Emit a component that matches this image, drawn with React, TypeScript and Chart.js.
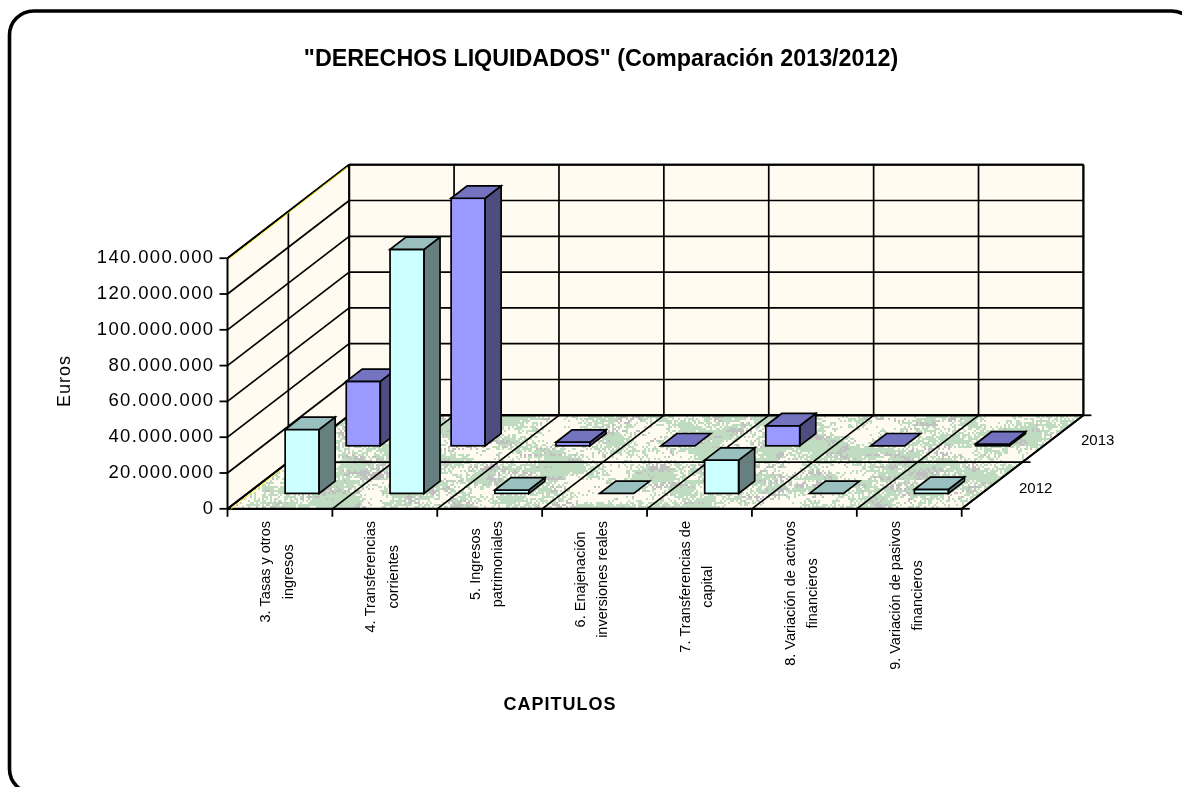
import React, { useEffect, useRef } from "react";
import { Chart, registerables } from "chart.js";

Chart.register(...registerables);

const categories = [
  ["3. Tasas y otros", "ingresos"],
  ["4. Transferencias", "corrientes"],
  ["5. Ingresos", "patrimoniales"],
  ["6. Enajenación", "inversiones reales"],
  ["7. Transferencias de", "capital"],
  ["8. Variación de activos", "financieros"],
  ["9. Variación de pasivos", "financieros"],
];
const values2012 = [35700000, 136300000, 1900000, 0, 18600000, 0, 2200000];
const values2013 = [36000000, 138300000, 2000000, 0, 11200000, 0, 1000000];
const seriesLabels = ["2012", "2013"];
const yTicks = [0, 20000000, 40000000, 60000000, 80000000, 100000000, 120000000, 140000000];
const title = '"DERECHOS LIQUIDADOS" (Comparación 2013/2012)';
const yTitle = "Euros";
const xTitle = "CAPITULOS";

const FONT = '"Liberation Sans", Arial, sans-serif';
const DEPTH = { x: 121.7, y: -93.5 };
const BAR_DEPTH = { x: 16, y: -12.3 };
const SERIES_OFFSET = [
  { x: 22.2, y: -15.4 },
  { x: 83.3, y: -63 },
];
const STYLES = [
  { side: "#668080", top: "#99BFBF" },
  { side: "#4D4D80", top: "#7373BF" },
];
const WALL = "#FFFBF0";
const LINE = 1.7;

function makeFloorPattern(ctx: CanvasRenderingContext2D) {
  const w = 1200;
  const h = 120;
  const c = document.createElement("canvas");
  c.width = w;
  c.height = h;
  const g = c.getContext("2d")!;
  g.fillStyle = "#C0DCC0";
  g.fillRect(0, 0, w, h);
  // fixed hash so that the texture is the same on every run
  const hash = (a: number, b: number) => {
    let n = (a * 374761393 + b * 668265263) | 0;
    n = Math.imul(n ^ (n >>> 13), 1274126177);
    n = Math.imul(n ^ (n >>> 15), 1103515245);
    return ((n ^ (n >>> 16)) >>> 0) / 4294967296;
  };
  const smooth = (x: number, y: number, sx: number, sy: number) => {
    const fx = x / sx;
    const fy = y / sy;
    const x0 = Math.floor(fx);
    const y0 = Math.floor(fy);
    const tx = fx - x0;
    const ty = fy - y0;
    const v = (i: number, j: number) => hash(i, j);
    return (
      v(x0, y0) * (1 - tx) * (1 - ty) +
      v(x0 + 1, y0) * tx * (1 - ty) +
      v(x0, y0 + 1) * (1 - tx) * ty +
      v(x0 + 1, y0 + 1) * tx * ty
    );
  };
  for (let y = 0; y < h; y += 2) {
    for (let x = 0; x < w; x += 2) {
      const a = smooth(x, y, 22, 9) * 0.62 + hash(x + 3, y + 7) * 0.38;
      const b = smooth(x + 500, y + 200, 16, 6) * 0.72 + hash(x + 11, y + 5) * 0.28;
      if (a > 0.55) {
        g.fillStyle = WALL;
        g.fillRect(x, y, 2, 2);
      } else if (b > 0.67) {
        g.fillStyle = "#C0C0C0";
        g.fillRect(x, y, 2, 2);
      }
    }
  }
  return ctx.createPattern(c, "repeat")!;
}

function line(ctx: CanvasRenderingContext2D, x1: number, y1: number, x2: number, y2: number, lw = LINE, color = "#000") {
  ctx.strokeStyle = color;
  ctx.lineWidth = lw;
  ctx.beginPath();
  ctx.moveTo(x1, y1);
  ctx.lineTo(x2, y2);
  ctx.stroke();
}

function poly(ctx: CanvasRenderingContext2D, pts: number[][], fill: any, lw = LINE) {
  ctx.beginPath();
  pts.forEach(([x, y], i) => (i ? ctx.lineTo(x, y) : ctx.moveTo(x, y)));
  ctx.closePath();
  ctx.fillStyle = fill;
  ctx.fill();
  if (lw) {
    ctx.strokeStyle = "#000";
    ctx.lineWidth = lw;
    ctx.lineJoin = "miter";
    ctx.stroke();
  }
}

const frame3d = {
  id: "frame3d",
  beforeDatasetsDraw(chart: any) {
    const { ctx, scales } = chart;
    ctx.letterSpacing = "0px";
    const xs = scales.x;
    const ys = scales.y;
    const left = xs.left;
    const right = xs.right;
    const y0 = ys.getPixelForValue(0);
    const yTop = ys.getPixelForValue(140000000);
    const d = DEPTH;
    const n = categories.length;
    const cw = (right - left) / n;
    ctx.save();
    ctx.lineCap = "butt";
    // walls
    poly(ctx, [[left, y0], [left + d.x, y0 + d.y], [left + d.x, yTop + d.y], [left, yTop]], WALL, 0);
    poly(ctx, [[left + d.x, y0 + d.y], [right + d.x, y0 + d.y], [right + d.x, yTop + d.y], [left + d.x, yTop + d.y]], WALL, 0);
    // floor
    poly(ctx, [[left, y0], [right, y0], [right + d.x, y0 + d.y], [left + d.x, y0 + d.y]], makeFloorPattern(ctx), 0);
    // wall grid: horizontal
    yTicks.forEach((v) => {
      const y = ys.getPixelForValue(v);
      line(ctx, left, y, left + d.x, y + d.y);
      line(ctx, left + d.x, y + d.y, right + d.x, y + d.y, v === 0 ? 2.4 : LINE);
    });
    // wall grid: vertical on back wall and floor depth lines
    for (let i = 0; i <= n; i++) {
      const x = left + i * cw;
      line(ctx, x + d.x, y0 + d.y, x + d.x, yTop + d.y);
      line(ctx, x, y0, x + d.x, y0 + d.y);
    }
    // series divider on floor and left wall
    const mid = { x: d.x / 2, y: d.y / 2 };
    line(ctx, left + mid.x, y0 + mid.y, right + mid.x + 8, y0 + mid.y);
    line(ctx, left + mid.x, y0 + mid.y, left + mid.x, yTop + mid.y);
    // outer frame
    line(ctx, left, yTop, left + d.x, yTop + d.y, 2);
    line(ctx, left + d.x, yTop + d.y, right + d.x, yTop + d.y, 2);
    line(ctx, right + d.x, yTop + d.y, right + d.x, y0 + d.y, 2);
    line(ctx, left + d.x, yTop + d.y, left + d.x, y0 + d.y, 2);
    line(ctx, left, yTop, left, y0, 2);
    line(ctx, left, y0, right, y0, 2.2);
    line(ctx, right, y0, right + d.x, y0 + d.y, 2);
    line(ctx, left, y0, left + d.x, y0 + d.y, 2);
    // yellow fringe on the diagonal edges
    line(ctx, left + 2, yTop + 0.6, left + d.x - 2, yTop + d.y + 2.4, 0.8, "#FFF200");
    line(ctx, left + 3, y0 + 0.8, left + mid.x - 8, y0 + mid.y + 8, 0.8, "#FFF200");
    // tick marks
    for (let i = 0; i <= n; i++) {
      const x = left + i * cw;
      line(ctx, x, y0, x, y0 + 8, 1.8);
    }
    yTicks.forEach((v) => {
      const y = ys.getPixelForValue(v);
      line(ctx, left - 8, y, left, y, 1.8);
    });
    line(ctx, right, y0, right + 8, y0, 1.8);
    line(ctx, right + d.x, y0 + d.y, right + d.x + 8, y0 + d.y, 1.8);
    // depth labels
    ctx.fillStyle = "#000";
    ctx.font = `15px ${FONT}`;
    ctx.textAlign = "left";
    ctx.textBaseline = "middle";
    ctx.fillText(seriesLabels[0], 1019, 489);
    ctx.fillText(seriesLabels[1], 1081, 441);
    ctx.restore();
  },
  beforeDatasetDraw(chart: any, args: any) {
    const o = SERIES_OFFSET[args.index];
    chart.ctx.save();
    chart.ctx.translate(o.x, o.y);
  },
  afterDatasetDraw(chart: any, args: any) {
    const { ctx } = chart;
    const s = STYLES[args.index];
    const bd = BAR_DEPTH;
    args.meta.data.forEach((bar: any) => {
      const p = bar.getProps(["x", "y", "base", "width"], true);
      const l = p.x - p.width / 2;
      const r = p.x + p.width / 2;
      const t = p.y;
      const b = p.base;
      if (b - t > 0.5) {
        poly(ctx, [[r, t], [r + bd.x, t + bd.y], [r + bd.x, b + bd.y], [r, b]], s.side);
        ctx.strokeStyle = "#000";
        ctx.lineWidth = LINE;
        ctx.strokeRect(l, t, r - l, b - t);
      }
      poly(ctx, [[l, t], [r, t], [r + bd.x, t + bd.y], [l + bd.x, t + bd.y]], s.top);
    });
    ctx.restore();
  },
  afterDraw(chart: any) {
    const { ctx, scales } = chart;
    const xs = scales.x;
    ctx.save();
    ctx.fillStyle = "#000";
    ctx.textAlign = "center";
    ctx.textBaseline = "middle";
    // title
    ctx.font = `bold 23.3px ${FONT}`;
    ctx.fillText(title, 601, 60);
    // category labels: block hangs from the axis, lines centred in the block
    ctx.font = `14.5px ${FONT}`;
    categories.forEach((lines, i) => {
      const c = xs.getPixelForTick(i) - 2.5;
      const longest = Math.max(...lines.map((t) => ctx.measureText(t).width));
      const cy = 521 + longest / 2;
      lines.forEach((t, k) => {
        ctx.save();
        ctx.translate(c + (k - 0.5) * 22.5, cy);
        ctx.rotate(-Math.PI / 2);
        ctx.fillText(t, 0, 0);
        ctx.restore();
      });
    });
    // axis titles
    ctx.font = `bold 18px ${FONT}`;
    ctx.letterSpacing = "1px";
    ctx.fillText(xTitle, 560, 705.5);
    ctx.font = `18px ${FONT}`;
    ctx.translate(65, 381);
    ctx.rotate(-Math.PI / 2);
    ctx.fillText(yTitle, 0, 0);
    ctx.restore();
  },
};

const pageFrame = {
  id: "pageFrame",
  beforeDraw(chart: any) {
    const { ctx } = chart;
    ctx.save();
    ctx.fillStyle = "#fff";
    ctx.fillRect(0, 0, chart.width, chart.height);
    ctx.strokeStyle = "#000";
    ctx.lineWidth = 3.6;
    ctx.beginPath();
    ctx.roundRect(9.5, 11, 1186, 782, 24);
    ctx.stroke();
    ctx.restore();
    ctx.letterSpacing = "1.35px";
  },
};

export default function App() {
  const ref = useRef<HTMLCanvasElement>(null);
  useEffect(() => {
    const chart = new Chart(ref.current!, {
      type: "bar",
      data: {
        labels: categories.map((c) => c.join(" ")),
        datasets: [
          { label: seriesLabels[0], data: values2012, backgroundColor: "#CCFFFF", borderColor: "#000", borderWidth: 0, grouped: false, barPercentage: 34 / 104.9, categoryPercentage: 1 },
          { label: seriesLabels[1], data: values2013, backgroundColor: "#9999FF", borderColor: "#000", borderWidth: 0, grouped: false, barPercentage: 34 / 104.9, categoryPercentage: 1 },
        ],
      },
      options: {
        animation: false,
        responsive: false,
        layout: { padding: { left: 0, top: 258.2, right: 220.3, bottom: 278.2 } },
        plugins: {
          legend: { display: false },
          tooltip: { enabled: false },
          title: { display: false },
        },
        scales: {
          x: {
            position: "bottom",
            grid: { display: false },
            border: { display: false },
            ticks: { display: false },
            title: { display: false },
            afterFit(s: any) {
              s.height = 0;
            },
          },
          y: {
            min: 0,
            max: 140000000,
            border: { display: false },
            grid: { display: false },
            ticks: {
              stepSize: 20000000,
              color: "#000",
              padding: 5,
              font: { family: FONT, size: 18.5 },
              callback: (v: any) => Number(v).toLocaleString("de-DE"),
            },
            title: { display: false },
            afterFit(s: any) {
              s.width = 227.5;
            },
          },
        },
      },
      plugins: [pageFrame, frame3d],
    } as any);
    return () => chart.destroy();
  }, []);
  return <canvas ref={ref} width={1182} height={787} style={{ position: "fixed", left: 0, top: 0, display: "block" }} />;
}
